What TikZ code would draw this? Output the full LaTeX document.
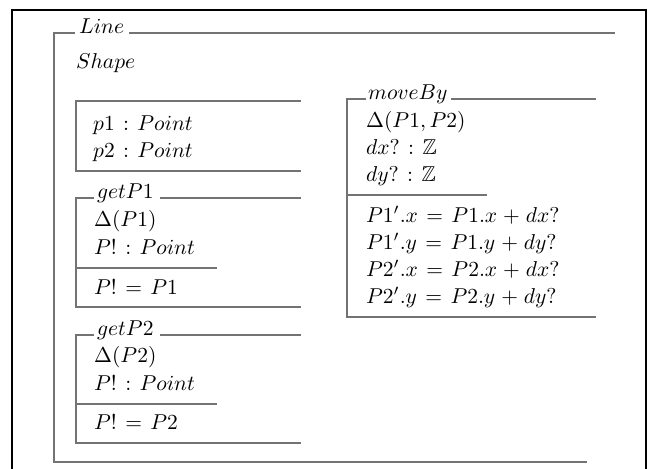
\documentclass[tikz,border=0pt]{standalone}
\usepackage{amssymb}
\usepackage{graphicx}
\newcommand{\zmath}[1]{\scalebox{2.15}{$\thickmuskip=7mu plus 3mu\medmuskip=5mu #1$}}
\begin{document}
\begin{tikzpicture}[x=1pt,y=-1pt,
  zline/.style={draw=black!55,line width=1.6pt},
  frame/.style={draw=black,line width=2.6pt},
  ztxt/.style={anchor=base west,inner sep=0pt,font=\fontsize{10}{12}\selectfont}]
\useasboundingbox (0,0) rectangle (649,469);
\fill[white] (0,0) rectangle (649,469);
% outer frame
\draw[frame] (12,469) -- (12,10) -- (646,10) -- (646,469);
% Line schema
\node[ztxt] (tLine) at (79,33) {\zmath{Line}};
\draw[zline] (75,33) -- (54,33) -- (54,462) -- (587,462);
\draw[zline] (129,33) -- (615,33);
\node[ztxt] (shape) at (76,68) {\zmath{Shape}};
% state box
\draw[zline] (301,101) -- (76,101) -- (76,171) -- (301,171);
\node[ztxt] (p1) at (93,130) {\zmath{p1 : Point}};
\node[ztxt] (p2) at (93,157) {\zmath{p2 : Point}};
% getP1
\node[ztxt] (tg1) at (97,198) {\zmath{getP1}};
\draw[zline] (94,198) -- (76,198) -- (76,307) -- (301,307);
\draw[zline] (160,198) -- (301,198);
\node[ztxt] (g1a) at (94,226) {\zmath{\Delta(P1)}};
\node[ztxt] (g1b) at (94,254) {\zmath{P! : Point}};
\draw[zline] (76,268) -- (217,268);
\node[ztxt] (g1c) at (94,294) {\zmath{P! = P1}};
% getP2
\node[ztxt] (tg2) at (97,335) {\zmath{getP2}};
\draw[zline] (94,335) -- (76,335) -- (76,443) -- (301,443);
\draw[zline] (160,335) -- (301,335);
\node[ztxt] (g2a) at (94,362) {\zmath{\Delta(P2)}};
\node[ztxt] (g2b) at (94,390) {\zmath{P! : Point}};
\draw[zline] (76,404) -- (217,404);
\node[ztxt] (g2c) at (94,429) {\zmath{P! = P2}};
% moveBy
\node[ztxt] (tmv) at (368,99) {\zmath{moveBy}};
\draw[zline] (366,99) -- (347,99) -- (347,317) -- (596,317);
\draw[zline] (451,99) -- (596,99);
\node[ztxt] (m1) at (366,127) {\zmath{\Delta(P1, P2)}};
\node[ztxt] (m2) at (366,154) {\zmath{dx? : \mathbb{Z}}};
\node[ztxt] (m3) at (366,181) {\zmath{dy? : \mathbb{Z}}};
\draw[zline] (347,195) -- (487,195);
\node[ztxt] (m4) at (366,222) {\zmath{P1'.x = P1.x + dx?}};
\node[ztxt] (m5) at (366,249) {\zmath{P1'.y = P1.y + dy?}};
\node[ztxt] (m6) at (366,276) {\zmath{P2'.x = P2.x + dx?}};
\node[ztxt] (m7) at (366,303) {\zmath{P2'.y = P2.y + dy?}};
\end{tikzpicture}
\end{document}
